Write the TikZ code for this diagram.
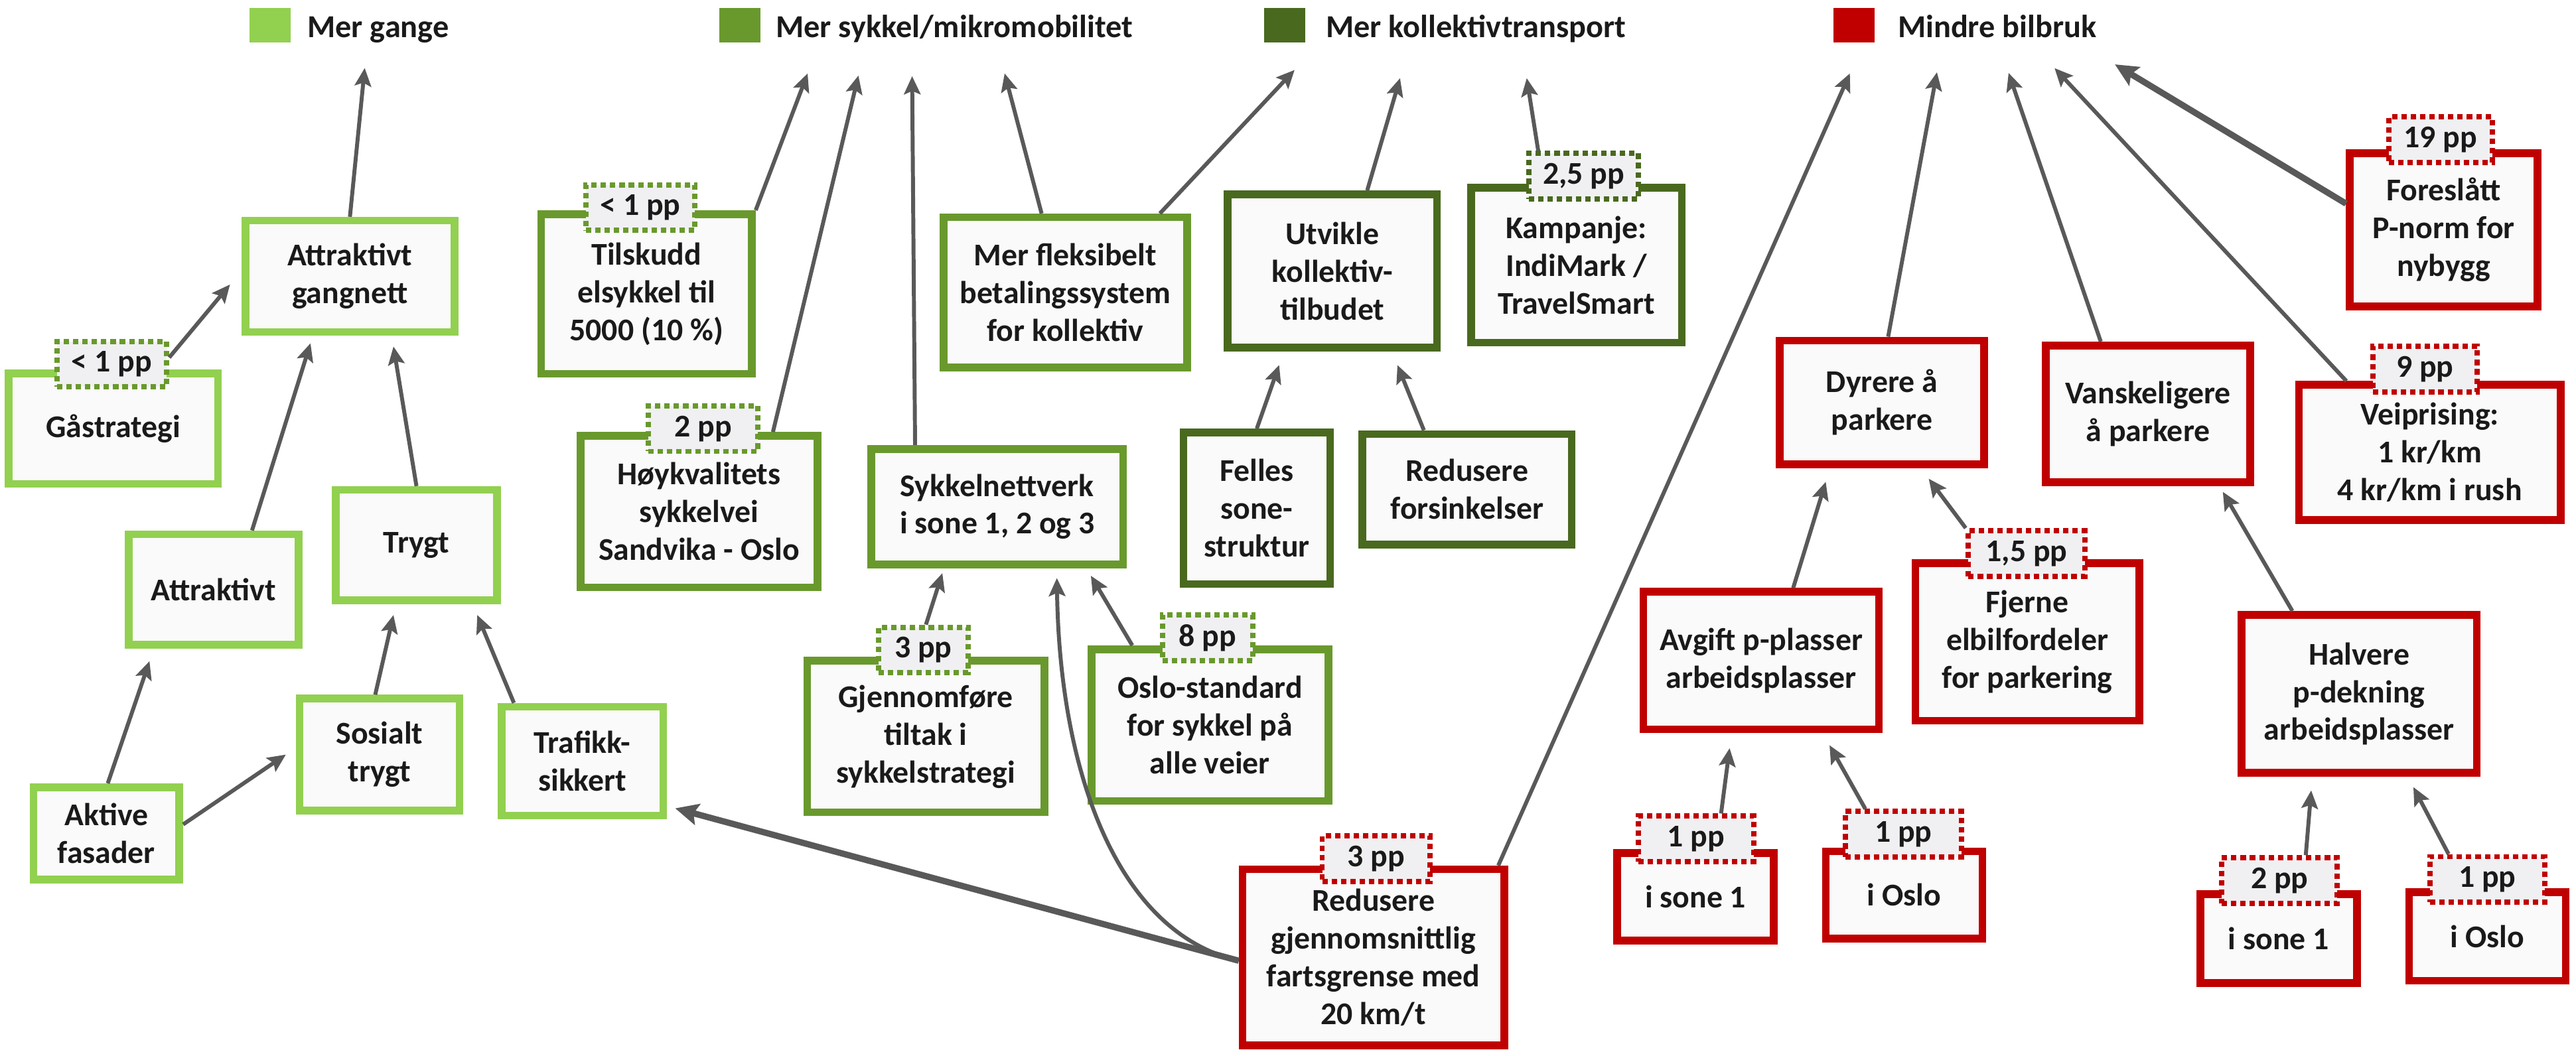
\documentclass[tikz,border=0pt]{standalone}
\usepackage{fontspec}
\setmainfont{Carlito}
\usetikzlibrary{arrows.meta,calc}
\definecolor{lg}{HTML}{92D050}
\definecolor{mg}{HTML}{69992D}
\definecolor{dg}{HTML}{49691F}
\definecolor{rd}{HTML}{C00000}
\definecolor{arc}{HTML}{595959}
\definecolor{bxf}{HTML}{FAFAFA}
\definecolor{ppf}{HTML}{F0F0F2}
\definecolor{txc}{HTML}{1A1A1A}
\newcommand\bxfont{\fontsize{19.3}{23}\selectfont\bfseries}
\newcommand\lgfont{\fontsize{19.5}{22}\selectfont\bfseries}
\tikzset{
  box/.style={draw=#1, line width=4.7pt, fill=bxf, align=center, inner sep=0pt, text=txc, font=\bxfont},
  badge/.style={draw=#1, line width=3.2pt, dash pattern=on 3.3pt off 2.4pt, fill=ppf, inner sep=0pt, minimum height=27.7pt, text=txc, font=\bxfont},
  sq/.style={fill=#1, inner sep=0pt, minimum width=25pt, minimum height=21pt},
  legtext/.style={anchor=base west, inner sep=0pt, text=txc, font=\lgfont},
  arr/.style={draw=arc, line width=2.4pt, -{Stealth[length=11pt,width=10pt,inset=2pt]}},
  thickarr/.style={draw=arc, line width=3.8pt, -{Stealth[length=14pt,width=13pt,inset=2.5pt]}},
}
\begin{document}
\begin{tikzpicture}[x=1pt,y=-1pt]
\useasboundingbox (0,0) rectangle (1568,643);

% legend
\node[sq=lg] (s1) at (164.5,15.5) {};
\node[legtext] (l1) at (187,23) {Mer gange};
\node[sq=mg] (s2) at (450.5,15.5) {};
\node[legtext] (l2) at (472,23) {Mer sykkel/mikromobilitet};
\node[sq=dg] (s3) at (782,15.5) {};
\node[legtext] (l3) at (807,23) {Mer kollektivtransport};
\node[sq=rd] (s4) at (1128.5,15.5) {};
\node[legtext] (l4) at (1155,23) {Mindre bilbruk};

% free arrow ends
\coordinate (t1) at (222,41.4);
\coordinate (t10) at (491.6,44.7);
\coordinate (t11) at (522.5,46);
\coordinate (t12) at (555.2,46.4);
\coordinate (t16) at (611.5,44.7);
\coordinate (t17) at (788,42.6);
\coordinate (t18) at (852.2,47.6);
\coordinate (t19) at (929.3,47.6);
\coordinate (t22) at (1126,44.7);
\coordinate (t23) at (1179,44);
\coordinate (t24) at (1222.6,44.4);
\coordinate (t25) at (1250.6,41.5);
\coordinate (t26) at (1287.3,39.2);

% light green
\node[box=lg, minimum width=127.3pt, minimum height=67.8pt] (gang) at (213,168.25) {Attraktivt\\gangnett};
\node[box=lg, minimum width=127.3pt, minimum height=67.3pt] (gaa) at (69,261) {Gåstrategi};
\node[box=lg, minimum width=103.3pt, minimum height=67.3pt] (attr) at (130,359) {Attraktivt};
\node[box=lg, minimum width=98.3pt, minimum height=67.3pt] (trygt) at (253.5,332) {Trygt};
\node[box=lg, minimum width=88.8pt, minimum height=56.3pt] (aktive) at (64.75,507.5) {Aktive\\fasader};
\node[box=lg, minimum width=97.3pt, minimum height=68.3pt] (sos) at (231,459.5) {Sosialt\\trygt};
\node[box=lg, minimum width=98.3pt, minimum height=66.3pt] (traf) at (354.5,463.5) {Trafikk-\\sikkert};

% mid green
\node[box=mg, minimum width=128.3pt, minimum height=97.3pt] (tils) at (393.5,179) {Tilskudd\\elsykkel til\\5000 (10 \%)};
\node[box=mg, minimum width=144.3pt, minimum height=92.3pt] (hoy) at (425.5,311.5) {Høykvalitets\\sykkelvei\\Sandvika - Oslo};
\node[box=mg, minimum width=148.3pt, minimum height=91.3pt] (flex) at (648.5,178) {Mer fleksibelt\\betalingssystem\\for kollektiv};
\node[box=mg, minimum width=153.3pt, minimum height=70.3pt] (sykn) at (607,308.5) {Sykkelnettverk\\i sone 1, 2 og 3};
\node[box=mg, minimum width=144.3pt, minimum height=92.3pt] (gjen) at (563.5,448.5) {Gjennomføre\\tiltak i\\sykkelstrategi};
\node[box=mg, minimum width=144.3pt, minimum height=92.3pt] (oslo) at (736.5,441.5) {Oslo-standard\\for sykkel på\\alle veier};

% dark green
\node[box=dg, minimum width=127.3pt, minimum height=93.3pt] (utv) at (811,165) {Utvikle\\kollektiv-\\tilbudet};
\node[box=dg, minimum width=128.3pt, minimum height=94.3pt] (kamp) at (959.5,161.5) {Kampanje:\\IndiMark /\\TravelSmart};
\node[box=dg, minimum width=89.3pt, minimum height=92.3pt] (fell) at (765,309.5) {Felles\\sone-\\struktur};
\node[box=dg, minimum width=127.3pt, minimum height=67.3pt] (fors) at (893,298) {Redusere\\forsinkelser};

% red
\node[box=rd, minimum width=159.3pt, minimum height=107.3pt] (red) at (836,583) {Redusere\\gjennomsnittlig\\fartsgrense med\\20 km/t};
\node[box=rd, minimum width=124.3pt, minimum height=75.3pt] (dyr) at (1145.5,245) {Dyrere å\\parkere};
\node[box=rd, minimum width=124.3pt, minimum height=83.3pt] (vans) at (1307.5,252) {Vanskeligere\\å parkere};
\node[box=rd, minimum width=114.3pt, minimum height=93.3pt] (fore) at (1487.5,140) {Foreslått\\P-norm for\\nybygg};
\node[box=rd, minimum width=159.3pt, minimum height=82.3pt] (vei) at (1479,275.5) {Veiprising:\\1 kr/km\\4 kr/km i rush};
\node[box=rd, minimum width=143.3pt, minimum height=83.8pt] (avg) at (1072,402.25) {Avgift p-plasser\\arbeidsplasser};
\node[box=rd, minimum width=136.3pt, minimum height=95.9pt] (fje) at (1234,390.9) {Fjerne\\elbilfordeler\\for parkering};
\node[box=rd, minimum width=143.3pt, minimum height=96.3pt] (halv) at (1436,422.5) {Halvere\\p-dekning\\arbeidsplasser};
\node[box=rd, minimum width=95.3pt, minimum height=53.3pt] (as1) at (1032,546) {i sone 1};
\node[box=rd, minimum width=95.3pt, minimum height=53.3pt] (ao) at (1159,545) {i Oslo};
\node[box=rd, minimum width=95.3pt, minimum height=54.3pt] (hs1) at (1387,571.5) {i sone 1};
\node[box=rd, minimum width=95.3pt, minimum height=53.8pt] (ho) at (1514,570.25) {i Oslo};

% badges
\node[badge=mg, minimum width=66.8pt] (bgaa) at (68,221.7) {< 1 pp};
\node[badge=mg, minimum width=66.4pt] (btils) at (389.8,126.4) {< 1 pp};
\node[badge=mg, minimum width=66.8pt] (bhoy) at (428,261) {2 pp};
\node[badge=mg, minimum width=54.3pt] (bgjen) at (562,395.8) {3 pp};
\node[badge=mg, minimum width=54.8pt] (boslo) at (735,388.4) {8 pp};
\node[badge=dg, minimum width=66.8pt] (bkamp) at (964,107.3) {2,5 pp};
\node[badge=rd, minimum width=65.8pt] (bred) at (837.7,522.9) {3 pp};
\node[badge=rd, minimum width=62.8pt] (bfore) at (1485.5,85.1) {19 pp};
\node[badge=rd, minimum width=63.5pt] (bvei) at (1476,224.8) {9 pp};
\node[badge=rd, minimum width=70.8pt] (bfje) at (1233.5,337) {1,5 pp};
\node[badge=rd, minimum width=70.2pt] (bas1) at (1032.3,510.8) {1 pp};
\node[badge=rd, minimum width=70.5pt] (bao) at (1158.6,508) {1 pp};
\node[badge=rd, minimum width=70.5pt] (bhs1) at (1387.5,536.2) {2 pp};
\node[badge=rd, minimum width=70.1pt] (bho) at (1514,535.5) {1 pp};

% arrows: walking
\draw[arr] (gang.north) -- (t1);
\draw[arr] ([yshift=4pt]bgaa.east) -- ([xshift=-7pt,yshift=-5pt]gang.west);
\draw[arr] ([xshift=23.4pt]attr.north) -- ([xshift=-24pt,yshift=-4.5pt]gang.south);
\draw[arr] (trygt.north) -- ([xshift=26.5pt,yshift=-6.5pt]gang.south);
\draw[arr] ([xshift=0.85pt]aktive.north) -- ([xshift=-39pt,yshift=-7.6pt]attr.south);
\draw[arr] ([yshift=5.5pt]aktive.east) -- ([xshift=-6pt]sos.west);
\draw[arr] ([xshift=-2.6pt]sos.north) -- ([xshift=-14pt,yshift=-6.5pt]trygt.south);
\draw[arr] ([xshift=-41.7pt]traf.north) -- ([xshift=37pt,yshift=-6.5pt]trygt.south);
\draw[thickarr] ([yshift=-2pt]red.west) -- ([xshift=5pt,yshift=-28.7pt]traf.east);

% arrows: bike
\draw[arr] (tils.north east) -- (t10);
\draw[arr] ([xshift=45pt]hoy.north) -- (t11);
\draw[arr] ([xshift=-50pt]sykn.north) -- (t12);
\draw[arr] ([xshift=1.6pt]bgjen.north) -- ([xshift=-33.4pt,yshift=-3pt]sykn.south);
\draw[arr] ([xshift=-47.3pt]oslo.north) -- ([xshift=57pt,yshift=-4.6pt]sykn.south);
\draw[arr] ([yshift=-2pt]red.west) .. controls (680,568) and (645,470) .. ([xshift=36.3pt,yshift=-6pt]sykn.south);
\draw[arr] ([xshift=-14.5pt]flex.north) -- (t16);

% arrows: transit
\draw[arr] ([xshift=57.5pt]flex.north) -- (t17);
\draw[arr] ([xshift=21.2pt]utv.north) -- (t18);
\draw[arr] ([xshift=-27.7pt]bkamp.north) -- (t19);
\draw[arr] (fell.north) -- ([xshift=-32.4pt,yshift=-8.3pt]utv.south);
\draw[arr] ([xshift=-26.3pt]fors.north) -- ([xshift=39.6pt,yshift=-8.3pt]utv.south);

% arrows: car
\draw[arr] ([xshift=-6pt]red.north east) -- (t22);
\draw[arr] ([xshift=3.8pt]dyr.north) -- (t23);
\draw[arr] ([xshift=-28.8pt]vans.north) -- (t24);
\draw[arr] ([xshift=31.2pt]vei.north west) -- (t25);
\draw[thickarr] ([yshift=16pt]fore.west) -- (t26);
\draw[arr] ([xshift=19.5pt]avg.north) -- ([xshift=-34.2pt,yshift=-8.4pt]dyr.south);
\draw[arr] (bfje.north west) -- ([xshift=28.5pt,yshift=-6.5pt]dyr.south);
\draw[arr] ([xshift=-40.7pt]halv.north) -- ([xshift=45.5pt,yshift=-3.5pt]vans.south);
\draw[arr] ([xshift=15.3pt]bas1.north) -- ([xshift=-19.2pt,yshift=-9.1pt]avg.south);
\draw[arr] ([xshift=-23.2pt]bao.north) -- ([xshift=41.6pt,yshift=-7.3pt]avg.south);
\draw[arr] ([xshift=16pt]bhs1.north) -- ([xshift=-29.2pt,yshift=-8.3pt]halv.south);
\draw[arr] ([xshift=-23.6pt]bho.north) -- ([xshift=33pt,yshift=-6.3pt]halv.south);
\end{tikzpicture}
\end{document}
